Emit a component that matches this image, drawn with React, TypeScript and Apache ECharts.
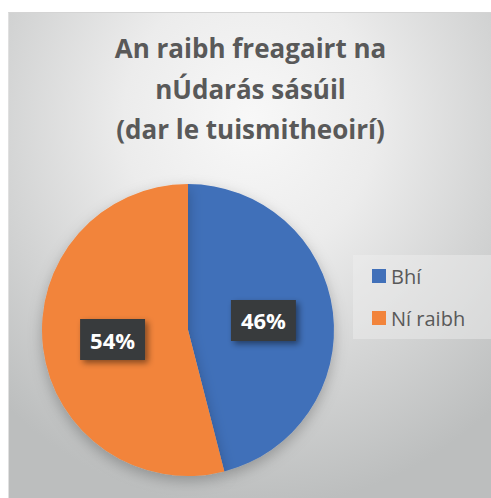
import React, { useEffect, useRef } from "react";
import * as echarts from "echarts";

const titleLines = ["An raibh freagairt na", "nÚdarás sásúil", "(dar le tuismitheoirí)"];
const categories = ["Bhí", "Ní raibh"];
const values = [46, 54];
const colors = ["#4170b9", "#f2843b"];

export default function App() {
  const ref = useRef<HTMLDivElement>(null);
  useEffect(() => {
    if (!ref.current) return;
    const chart = echarts.init(ref.current, undefined, { renderer: "svg" });
    chart.setOption({
      animation: false,
      backgroundColor: "transparent",
      title: {
        text: titleLines.join("\n"),
        left: "center",
        top: 10,
        textStyle: {
          fontFamily: "Open Sans",
          fontWeight: "bold",
          fontSize: 26,
          lineHeight: 40.5,
          color: "#595959",
        },
      },
      legend: {
        orient: "vertical",
        left: 344,
        top: 242,
        width: 134,
        backgroundColor: "rgba(240,240,240,0.45)",
        padding: [10, 30, 10, 19],
        itemWidth: 14,
        itemHeight: 14,
        itemGap: 20,
        icon: "rect",
        textStyle: {
          fontFamily: "Open Sans",
          fontSize: 20,
          color: "#595959",
          lineHeight: 22,
        },
        data: categories,
      },
      series: [
        {
          type: "pie",
          center: [179, 317],
          radius: [0, 146],
          startAngle: 90,
          clockwise: true,
          itemStyle: {
            shadowBlur: 14,
            shadowColor: "rgba(0,0,0,0.25)",
            shadowOffsetY: 5,
          },
          label: {
            show: true,
            position: "inside",
            formatter: "{d}%",
            fontFamily: "Open Sans",
            fontWeight: "bold",
            fontSize: 22,
            lineHeight: 24,
            color: "#ffffff",
            backgroundColor: "#373a3d",
            padding: [9, 10, 8, 10],
            shadowBlur: 6,
            shadowOffsetX: 3,
            shadowOffsetY: 3,
            shadowColor: "rgba(0,0,0,0.45)",
          },
          labelLine: { show: false },
          emphasis: { disabled: true },
          data: categories.map((c, i) => ({
            name: c,
            value: values[i],
            itemStyle: { color: colors[i] },
          })),
        },
      ],
    });
    return () => chart.dispose();
  }, []);
  return (
    <div
      style={{
        position: "absolute",
        left: 8,
        top: 12,
        width: 484,
        height: 487,
        boxSizing: "border-box",
        borderTop: "1px solid #d4d4d4",
        borderLeft: "1px solid #e0e0e0",
        background:
          "radial-gradient(ellipse 75% 80% at 50% 22%, #f8f8f8 0%, #ececec 35%, #d2d3d3 70%, #bcbebe 100%)",
      }}
    >
      <div ref={ref} style={{ width: 483, height: 486 }} />
    </div>
  );
}
